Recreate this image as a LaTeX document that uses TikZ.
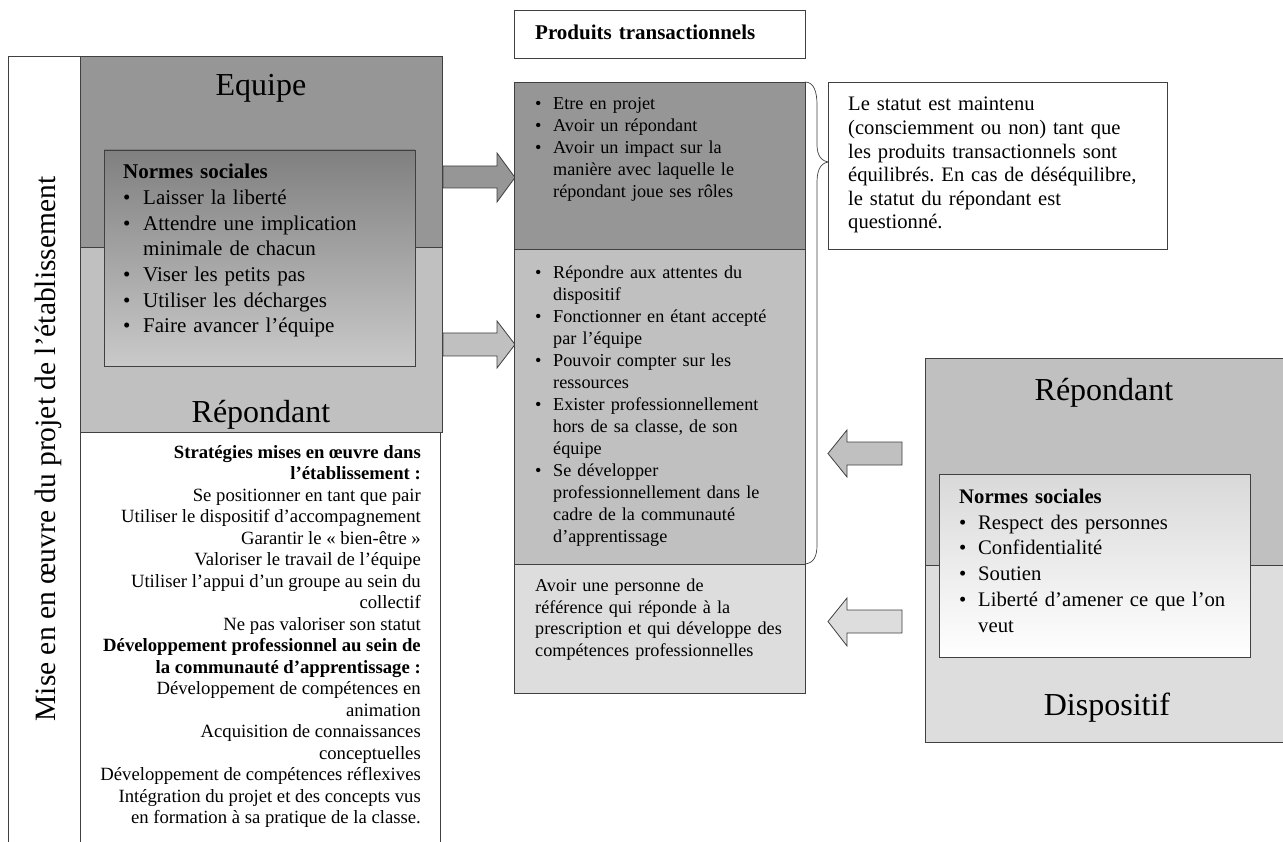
\documentclass[tikz,border=0pt]{standalone}
\usepackage{fontspec}
\setmainfont{Liberation Serif}
\usetikzlibrary{positioning}
\definecolor{grisfonce}{gray}{0.59}
\definecolor{grismoyen}{gray}{0.753}
\definecolor{grisclair}{gray}{0.867}
\definecolor{trait}{gray}{0.25}
\definecolor{ombrehaut}{gray}{0.5}
\definecolor{ombrebas}{gray}{0.79}
\definecolor{voilehaut}{gray}{0.85}
\setlength{\parindent}{0pt}
\frenchspacing
\newcommand{\puce}[2][18pt]{{\hangindent=#1\hangafter=1\noindent\makebox[#1][l]{\textbullet}#2\par}}
\begin{document}
\begin{tikzpicture}[x=1pt,y=-1pt,
    boite/.style={draw=trait,line width=0.8pt,anchor=north west,inner sep=0pt,outer sep=0pt},
    texte/.style={anchor=north west,inner sep=0pt,text width=330pt,align=left,font=\fontsize{18.2}{22}\selectfont},
    titre/.style={anchor=base,inner sep=0pt,font=\fontsize{32}{36}\selectfont},
    fleche/.style={draw=trait,line width=0.8pt}]
    \clip (0,0) rectangle (1283,842);

    \draw[trait,line width=0.8pt] (8,850) -- (8,56) -- (80,56) -- (80,850);
    \node[anchor=base,rotate=90,inner sep=0pt,font=\fontsize{29.5}{33}\selectfont] (projet) at (55,449) {Mise en en œuvre du projet de l’établissement};

    \node[boite,fill=grisfonce,minimum width=362pt,minimum height=191pt] (equipe) at (80,56) {};
    \node[boite,fill=grismoyen,minimum width=362pt,minimum height=185pt] (repondant) at (80,247) {};
    \node[titre] (nomequipe) at (261,96) {Equipe};
    \node[titre] (nomrepondant) at (261,422) {Répondant};
    \node[boite,top color=ombrehaut,bottom color=ombrebas,minimum width=311pt,minimum height=216pt] (cadreequipe) at (104,150) {};
    \node[texte,font=\fontsize{21}{25.7}\selectfont] (normesequipe) at (123,164) {\textbf{Normes sociales}\par\puce[20pt]{Laisser la liberté}\puce[20pt]{Attendre une implication\newline minimale de chacun}\puce[20pt]{Viser les petits pas}\puce[20pt]{Utiliser les décharges}\puce[20pt]{Faire avancer l’équipe}};

    \node[boite,fill=white,minimum width=360pt,minimum height=420pt] (cadrestrategies) at (80,432) {};
    \node[anchor=north east,inner sep=0pt,align=right,font=\fontsize{18.7}{21.5}\selectfont] (strategies) at (421,445) {\textbf{Stratégies mises en œuvre dans}\\ \textbf{l’établissement :}\\ Se positionner en tant que pair\\ Utiliser le dispositif d’accompagnement\\ Garantir le « bien-être »\\ Valoriser le travail de l’équipe\\ Utiliser l’appui d’un groupe au sein du\\ collectif\\ Ne pas valoriser son statut\\ \textbf{Développement professionnel au sein de}\\ \textbf{la communauté d’apprentissage :}\\ Développement de compétences en\\ animation\\ Acquisition de connaissances\\ conceptuelles\\ Développement de compétences réflexives\\ Intégration du projet et des concepts vus\\ en formation à sa pratique de la classe.};

    \draw[fleche,fill=grisfonce] (443,166) -- (497,166) -- (497,153) -- (515,177.5) -- (497,202) -- (497,188) -- (443,188) -- cycle;
    \draw[fleche,fill=grismoyen] (443,333) -- (497,333) -- (497,321) -- (515,344.5) -- (497,368) -- (497,356) -- (443,356) -- cycle;

    \node[boite,fill=white,minimum width=291pt,minimum height=48pt] (cadreproduits) at (514,10) {};
    \node[texte,font=\fontsize{21}{24}\selectfont] (produits) at (535,25) {\textbf{Produits transactionnels}};
    \node[boite,fill=grisfonce,minimum width=291pt,minimum height=167pt] (fonce) at (514,82) {};
    \node[boite,fill=grismoyen,minimum width=291pt,minimum height=315pt] (moyen) at (514,249) {};
    \node[boite,fill=grisclair,minimum width=291pt,minimum height=129pt] (clair) at (514,564) {};
    \node[texte] (produitsequipe) at (535,97) {\puce{Etre en projet}\puce{Avoir un répondant}\puce{Avoir un impact sur la\newline manière avec laquelle le\newline répondant joue ses rôles}};
    \node[texte] (produitsdispositif) at (535,266) {\puce{Répondre aux attentes du\newline dispositif}\puce{Fonctionner en étant accepté\newline par l’équipe}\puce{Pouvoir compter sur les\newline ressources}\puce{Exister professionnellement\newline hors de sa classe, de son\newline équipe}\puce{Se développer\newline professionnellement dans le\newline cadre de la communauté\newline d’apprentissage}};
    \node[texte,font=\fontsize{18.2}{21.5}\selectfont] (produitsrepondant) at (535,579) {Avoir une personne de\\ référence qui réponde à la\\ prescription et qui développe des\\ compétences professionnelles};

    \draw[trait,line width=0.7pt] (fonce.north east) .. controls (814,82) and (817,92) .. (817,105) -- (817,145) .. controls (817,156) and (822,162) .. (830,162) .. controls (822,162) and (817,168) .. (817,182) -- (817,545) .. controls (817,556) and (814,563) .. (moyen.south east);
    \node[boite,fill=white,minimum width=339pt,minimum height=167pt] (cadrestatut) at (828,82) {};
    \node[texte,font=\fontsize{20.6}{23.6}\selectfont] (statut) at (848,97) {Le statut est maintenu\\ (consciemment ou non) tant que\\ les produits transactionnels sont\\ équilibrés. En cas de déséquilibre,\\ le statut du répondant est\\ questionné.};

    \draw[fleche,fill=grismoyen] (902,442) -- (847,442) -- (847,430) -- (828,453.5) -- (847,477) -- (847,465) -- (902,465) -- cycle;
    \draw[fleche,fill=grisclair] (902,610) -- (847,610) -- (847,598) -- (828,621.5) -- (847,646) -- (847,633) -- (902,633) -- cycle;

    \node[boite,fill=grismoyen,minimum width=380pt,minimum height=207pt] (dispositifhaut) at (925,358) {};
    \node[boite,fill=grisclair,minimum width=380pt,minimum height=177pt] (dispositifbas) at (925,565) {};
    \node[titre] (nomrepondant2) at (1104,400) {Répondant};
    \node[titre] (nomdispositif) at (1107,715) {Dispositif};
    \node[boite,top color=voilehaut,bottom color=white,minimum width=311pt,minimum height=183pt] (cadredispositif) at (939,474) {};
    \node[texte,font=\fontsize{20.7}{25.7}\selectfont] (normesdispositif) at (959,489) {\textbf{Normes sociales}\par\puce[19pt]{Respect des personnes}\puce[19pt]{Confidentialité}\puce[19pt]{Soutien}\puce[19pt]{Liberté d’amener ce que l’on\newline veut}};
\end{tikzpicture}
\end{document}
